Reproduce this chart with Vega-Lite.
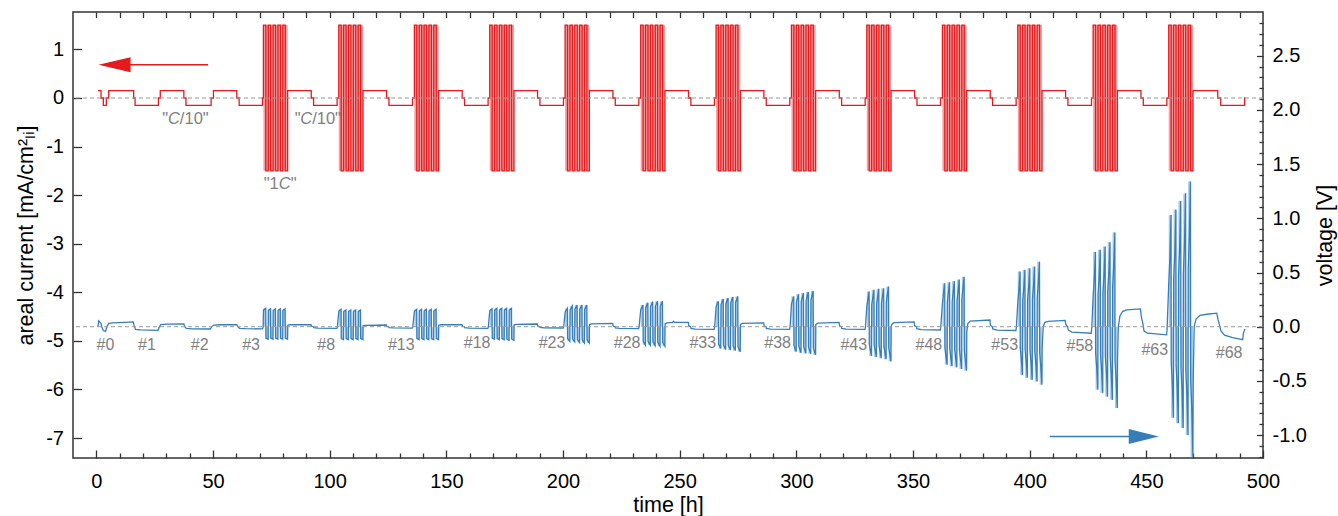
{
"$schema": "https://vega.github.io/schema/vega-lite/v6.json",
"width": 1190, "height": 446, "autosize": "none",
"padding": {"left": 73, "top": 12, "right": 75, "bottom": 58},
"background": "white",
"config": {
  "font": "Liberation Sans",
  "view": {"stroke": "#333", "strokeWidth": 1.5},
  "axis": {"domain": false, "grid": false, "tickColor": "#333", "tickWidth": 1.3, "labelColor": "#000", "titleColor": "#000", "labelFont": "Liberation Sans", "titleFont": "Liberation Sans", "labelFontSize": 20, "titleFontSize": 21.5, "titleFontWeight": "normal", "labelFlush": false, "labelOverlap": false}
},
"datasets": {
"cur": [
{"t":0.7,"c":0.15},{"t":2.0,"c":0},{"t":3.0,"c":-0.15},{"t":4.3,"c":0},{"t":5.3,"c":0.15},{"t":16.0,"c":0},{"t":16.6,"c":-0.15},{"t":26.6,"c":0},{"t":27.4,"c":0.15},{"t":37.5,"c":0},{"t":38.4,"c":-0.15},{"t":49.2,"c":0},{"t":50.2,"c":0.15},{"t":60.2,"c":0},{"t":61.2,"c":-0.15},{"t":71.2,"c":0},
{"t":71.6,"c":1.5},{"t":72.64,"c":-1.5},{"t":73.68,"c":1.5},{"t":74.72,"c":-1.5},{"t":75.76,"c":1.5},{"t":76.8,"c":-1.5},{"t":77.84,"c":1.5},{"t":78.88,"c":-1.5},{"t":79.92,"c":1.5},{"t":80.96,"c":-1.5},{"t":82.0,"c":0.15},{"t":92.1,"c":0},{"t":93.1,"c":-0.15},{"t":103.2,"c":0},
{"t":103.9,"c":1.5},{"t":104.94,"c":-1.5},{"t":105.98,"c":1.5},{"t":107.02,"c":-1.5},{"t":108.06,"c":1.5},{"t":109.1,"c":-1.5},{"t":110.14,"c":1.5},{"t":111.18,"c":-1.5},{"t":112.22,"c":1.5},{"t":113.26,"c":-1.5},{"t":114.3,"c":0.15},{"t":124.4,"c":0},{"t":125.4,"c":-0.15},{"t":135.5,"c":0},
{"t":136.3,"c":1.5},{"t":137.34,"c":-1.5},{"t":138.38,"c":1.5},{"t":139.42,"c":-1.5},{"t":140.46,"c":1.5},{"t":141.5,"c":-1.5},{"t":142.54,"c":1.5},{"t":143.58,"c":-1.5},{"t":144.62,"c":1.5},{"t":145.66,"c":-1.5},{"t":146.7,"c":0.15},{"t":156.8,"c":0},{"t":157.8,"c":-0.15},{"t":167.9,"c":0},
{"t":168.6,"c":1.5},{"t":169.64,"c":-1.5},{"t":170.68,"c":1.5},{"t":171.72,"c":-1.5},{"t":172.76,"c":1.5},{"t":173.8,"c":-1.5},{"t":174.84,"c":1.5},{"t":175.88,"c":-1.5},{"t":176.92,"c":1.5},{"t":177.96,"c":-1.5},{"t":179.0,"c":0.15},{"t":189.1,"c":0},{"t":190.1,"c":-0.15},{"t":200.2,"c":0},
{"t":200.9,"c":1.5},{"t":201.94,"c":-1.5},{"t":202.98,"c":1.5},{"t":204.02,"c":-1.5},{"t":205.06,"c":1.5},{"t":206.1,"c":-1.5},{"t":207.14,"c":1.5},{"t":208.18,"c":-1.5},{"t":209.22,"c":1.5},{"t":210.26,"c":-1.5},{"t":211.3,"c":0.15},{"t":221.4,"c":0},{"t":222.4,"c":-0.15},{"t":232.5,"c":0},
{"t":233.3,"c":1.5},{"t":234.34,"c":-1.5},{"t":235.38,"c":1.5},{"t":236.42,"c":-1.5},{"t":237.46,"c":1.5},{"t":238.5,"c":-1.5},{"t":239.54,"c":1.5},{"t":240.58,"c":-1.5},{"t":241.62,"c":1.5},{"t":242.66,"c":-1.5},{"t":243.7,"c":0.15},{"t":253.8,"c":0},{"t":254.8,"c":-0.15},{"t":264.9,"c":0},
{"t":265.6,"c":1.5},{"t":266.64,"c":-1.5},{"t":267.68,"c":1.5},{"t":268.72,"c":-1.5},{"t":269.76,"c":1.5},{"t":270.8,"c":-1.5},{"t":271.84,"c":1.5},{"t":272.88,"c":-1.5},{"t":273.92,"c":1.5},{"t":274.96,"c":-1.5},{"t":276.0,"c":0.15},{"t":286.1,"c":0},{"t":287.1,"c":-0.15},{"t":297.2,"c":0},
{"t":297.9,"c":1.5},{"t":298.94,"c":-1.5},{"t":299.98,"c":1.5},{"t":301.02,"c":-1.5},{"t":302.06,"c":1.5},{"t":303.1,"c":-1.5},{"t":304.14,"c":1.5},{"t":305.18,"c":-1.5},{"t":306.22,"c":1.5},{"t":307.26,"c":-1.5},{"t":308.3,"c":0.15},{"t":318.4,"c":0},{"t":319.4,"c":-0.15},{"t":329.5,"c":0},
{"t":330.2,"c":1.5},{"t":331.24,"c":-1.5},{"t":332.28,"c":1.5},{"t":333.32,"c":-1.5},{"t":334.36,"c":1.5},{"t":335.4,"c":-1.5},{"t":336.44,"c":1.5},{"t":337.48,"c":-1.5},{"t":338.52,"c":1.5},{"t":339.56,"c":-1.5},{"t":340.6,"c":0.15},{"t":350.7,"c":0},{"t":351.7,"c":-0.15},{"t":361.8,"c":0},
{"t":362.6,"c":1.5},{"t":363.64,"c":-1.5},{"t":364.68,"c":1.5},{"t":365.72,"c":-1.5},{"t":366.76,"c":1.5},{"t":367.8,"c":-1.5},{"t":368.84,"c":1.5},{"t":369.88,"c":-1.5},{"t":370.92,"c":1.5},{"t":371.96,"c":-1.5},{"t":373.0,"c":0.15},{"t":383.1,"c":0},{"t":384.1,"c":-0.15},{"t":394.2,"c":0},
{"t":394.9,"c":1.5},{"t":395.94,"c":-1.5},{"t":396.98,"c":1.5},{"t":398.02,"c":-1.5},{"t":399.06,"c":1.5},{"t":400.1,"c":-1.5},{"t":401.14,"c":1.5},{"t":402.18,"c":-1.5},{"t":403.22,"c":1.5},{"t":404.26,"c":-1.5},{"t":405.3,"c":0.15},{"t":415.4,"c":0},{"t":416.4,"c":-0.15},{"t":426.5,"c":0},
{"t":427.2,"c":1.5},{"t":428.24,"c":-1.5},{"t":429.28,"c":1.5},{"t":430.32,"c":-1.5},{"t":431.36,"c":1.5},{"t":432.4,"c":-1.5},{"t":433.44,"c":1.5},{"t":434.48,"c":-1.5},{"t":435.52,"c":1.5},{"t":436.56,"c":-1.5},{"t":437.6,"c":0.15},{"t":447.7,"c":0},{"t":448.7,"c":-0.15},{"t":458.8,"c":0},
{"t":459.6,"c":1.5},{"t":460.64,"c":-1.5},{"t":461.68,"c":1.5},{"t":462.72,"c":-1.5},{"t":463.76,"c":1.5},{"t":464.8,"c":-1.5},{"t":465.84,"c":1.5},{"t":466.88,"c":-1.5},{"t":467.92,"c":1.5},{"t":468.96,"c":-1.5},{"t":470.0,"c":0.15},{"t":480.6,"c":0},{"t":481.9,"c":-0.15},{"t":492.1,"c":0},{"t":492.4,"c":0}
],
"cblk": [
{"a":71.6,"e":82.0,"lo":-1.5,"hi":1.5},{"a":103.9,"e":114.3,"lo":-1.5,"hi":1.5},{"a":136.3,"e":146.7,"lo":-1.5,"hi":1.5},{"a":168.6,"e":179.0,"lo":-1.5,"hi":1.5},{"a":200.9,"e":211.3,"lo":-1.5,"hi":1.5},{"a":233.3,"e":243.7,"lo":-1.5,"hi":1.5},{"a":265.6,"e":276.0,"lo":-1.5,"hi":1.5},{"a":297.9,"e":308.3,"lo":-1.5,"hi":1.5},{"a":330.2,"e":340.6,"lo":-1.5,"hi":1.5},{"a":362.6,"e":373.0,"lo":-1.5,"hi":1.5},{"a":394.9,"e":405.3,"lo":-1.5,"hi":1.5},{"a":427.2,"e":437.6,"lo":-1.5,"hi":1.5},{"a":459.6,"e":470.0,"lo":-1.5,"hi":1.5}
],
"vbar": [
{"a":71.6,"e":72.64,"v":0.17},{"a":72.64,"e":73.68,"v":-0.115},{"a":73.68,"e":74.72,"v":0.165},{"a":74.72,"e":75.76,"v":-0.115},{"a":75.76,"e":76.8,"v":0.165},{"a":76.8,"e":77.84,"v":-0.115},{"a":77.84,"e":78.88,"v":0.165},{"a":78.88,"e":79.92,"v":-0.115},{"a":79.92,"e":80.96,"v":0.165},{"a":80.96,"e":82.0,"v":-0.115},
{"a":103.9,"e":104.94,"v":0.16},{"a":104.94,"e":105.98,"v":-0.12},{"a":105.98,"e":107.02,"v":0.155},{"a":107.02,"e":108.06,"v":-0.12},{"a":108.06,"e":109.1,"v":0.155},{"a":109.1,"e":110.14,"v":-0.12},{"a":110.14,"e":111.18,"v":0.155},{"a":111.18,"e":112.22,"v":-0.12},{"a":112.22,"e":113.26,"v":0.155},{"a":113.26,"e":114.3,"v":-0.12},
{"a":136.3,"e":137.34,"v":0.16},{"a":137.34,"e":138.38,"v":-0.12},{"a":138.38,"e":139.42,"v":0.16},{"a":139.42,"e":140.46,"v":-0.12},{"a":140.46,"e":141.5,"v":0.16},{"a":141.5,"e":142.54,"v":-0.12},{"a":142.54,"e":143.58,"v":0.16},{"a":143.58,"e":144.62,"v":-0.12},{"a":144.62,"e":145.66,"v":0.16},{"a":145.66,"e":146.7,"v":-0.12},
{"a":168.6,"e":169.64,"v":0.165},{"a":169.64,"e":170.68,"v":-0.115},{"a":170.68,"e":171.72,"v":0.17},{"a":171.72,"e":172.76,"v":-0.12},{"a":172.76,"e":173.8,"v":0.17},{"a":173.8,"e":174.84,"v":-0.12},{"a":174.84,"e":175.88,"v":0.17},{"a":175.88,"e":176.92,"v":-0.125},{"a":176.92,"e":177.96,"v":0.17},{"a":177.96,"e":179.0,"v":-0.125},
{"a":200.9,"e":201.94,"v":0.17},{"a":201.94,"e":202.98,"v":-0.135},{"a":202.98,"e":204.02,"v":0.19},{"a":204.02,"e":205.06,"v":-0.14},{"a":205.06,"e":206.1,"v":0.2},{"a":206.1,"e":207.14,"v":-0.145},{"a":207.14,"e":208.18,"v":0.2},{"a":208.18,"e":209.22,"v":-0.15},{"a":209.22,"e":210.26,"v":0.2},{"a":210.26,"e":211.3,"v":-0.15},
{"a":233.3,"e":234.34,"v":0.2},{"a":234.34,"e":235.38,"v":-0.17},{"a":235.38,"e":236.42,"v":0.22},{"a":236.42,"e":237.46,"v":-0.17},{"a":237.46,"e":238.5,"v":0.23},{"a":238.5,"e":239.54,"v":-0.175},{"a":239.54,"e":240.58,"v":0.235},{"a":240.58,"e":241.62,"v":-0.18},{"a":241.62,"e":242.66,"v":0.235},{"a":242.66,"e":243.7,"v":-0.18},
{"a":265.6,"e":266.64,"v":0.235},{"a":266.64,"e":267.68,"v":-0.2},{"a":267.68,"e":268.72,"v":0.255},{"a":268.72,"e":269.76,"v":-0.21},{"a":269.76,"e":270.8,"v":0.265},{"a":270.8,"e":271.84,"v":-0.215},{"a":271.84,"e":272.88,"v":0.275},{"a":272.88,"e":273.92,"v":-0.22},{"a":273.92,"e":274.96,"v":0.28},{"a":274.96,"e":276.0,"v":-0.23},
{"a":297.9,"e":298.94,"v":0.28},{"a":298.94,"e":299.98,"v":-0.23},{"a":299.98,"e":301.02,"v":0.3},{"a":301.02,"e":302.06,"v":-0.24},{"a":302.06,"e":303.1,"v":0.31},{"a":303.1,"e":304.14,"v":-0.245},{"a":304.14,"e":305.18,"v":0.32},{"a":305.18,"e":306.22,"v":-0.25},{"a":306.22,"e":307.26,"v":0.33},{"a":307.26,"e":308.3,"v":-0.26},
{"a":330.2,"e":331.24,"v":0.325},{"a":331.24,"e":332.28,"v":-0.27},{"a":332.28,"e":333.32,"v":0.34},{"a":333.32,"e":334.36,"v":-0.28},{"a":334.36,"e":335.4,"v":0.35},{"a":335.4,"e":336.44,"v":-0.29},{"a":336.44,"e":337.48,"v":0.355},{"a":337.48,"e":338.52,"v":-0.3},{"a":338.52,"e":339.56,"v":0.37},{"a":339.56,"e":340.6,"v":-0.32},
{"a":362.6,"e":363.64,"v":0.4},{"a":363.64,"e":364.68,"v":-0.35},{"a":364.68,"e":365.72,"v":0.41},{"a":365.72,"e":366.76,"v":-0.365},{"a":366.76,"e":367.8,"v":0.42},{"a":367.8,"e":368.84,"v":-0.375},{"a":368.84,"e":369.88,"v":0.435},{"a":369.88,"e":370.92,"v":-0.39},{"a":370.92,"e":371.96,"v":0.46},{"a":371.96,"e":373.0,"v":-0.405},
{"a":394.9,"e":395.94,"v":0.51},{"a":395.94,"e":396.98,"v":-0.445},{"a":396.98,"e":398.02,"v":0.525},{"a":398.02,"e":399.06,"v":-0.47},{"a":399.06,"e":400.1,"v":0.54},{"a":400.1,"e":401.14,"v":-0.49},{"a":401.14,"e":402.18,"v":0.555},{"a":402.18,"e":403.22,"v":-0.505},{"a":403.22,"e":404.26,"v":0.6},{"a":404.26,"e":405.3,"v":-0.535},
{"a":427.2,"e":428.24,"v":0.69},{"a":428.24,"e":429.28,"v":-0.58},{"a":429.28,"e":430.32,"v":0.71},{"a":430.32,"e":431.36,"v":-0.61},{"a":431.36,"e":432.4,"v":0.74},{"a":432.4,"e":433.44,"v":-0.645},{"a":433.44,"e":434.48,"v":0.78},{"a":434.48,"e":435.52,"v":-0.675},{"a":435.52,"e":436.56,"v":0.87},{"a":436.56,"e":437.6,"v":-0.75},
{"a":459.6,"e":460.64,"v":1.03},{"a":460.64,"e":461.68,"v":-0.84},{"a":461.68,"e":462.72,"v":1.08},{"a":462.72,"e":463.76,"v":-0.89},{"a":463.76,"e":464.8,"v":1.16},{"a":464.8,"e":465.84,"v":-0.935},{"a":465.84,"e":466.88,"v":1.23},{"a":466.88,"e":467.92,"v":-1.0},{"a":467.92,"e":468.96,"v":1.34},{"a":468.96,"e":470.0,"v":-1.2}
],
"volt": [
{"t":0.7,"v":0.0},{"t":1.0,"v":0.055},{"t":1.5,"v":0.045},{"t":2.0,"v":0.03},{"t":2.3,"v":0.0},{"t":3.0,"v":-0.035},{"t":3.9,"v":-0.043},{"t":4.4,"v":-0.01},{"t":5.3,"v":0.03},{"t":7.0,"v":0.035},{"t":12.0,"v":0.04},{"t":15.8,"v":0.045},{"t":16.2,"v":0.01},{"t":16.8,"v":-0.025},{"t":19.0,"v":-0.03},{"t":26.5,"v":-0.034},{"t":26.9,"v":-0.005},{"t":27.6,"v":0.02},{"t":30.0,"v":0.024},{"t":37.5,"v":0.026},{"t":37.9,"v":0.0},{"t":38.6,"v":-0.015},{"t":41.0,"v":-0.019},{"t":48.9,"v":-0.021},{"t":49.4,"v":0.0},{"t":50.4,"v":0.015},{"t":53.0,"v":0.018},{"t":60.2,"v":0.019},{"t":60.6,"v":0.0},{"t":61.4,"v":-0.015},{"t":64.0,"v":-0.018},{"t":71.2,"v":-0.02},{"t":71.5,"v":-0.005},
{"t":71.63,"v":0.153},{"t":72.6,"v":0.17},{"t":72.67,"v":-0.104},{"t":73.64,"v":-0.115},{"t":73.71,"v":0.149},{"t":74.68,"v":0.165},{"t":74.75,"v":-0.104},{"t":75.72,"v":-0.115},{"t":75.79,"v":0.149},{"t":76.76,"v":0.165},{"t":76.83,"v":-0.104},{"t":77.8,"v":-0.115},{"t":77.87,"v":0.149},{"t":78.84,"v":0.165},{"t":78.91,"v":-0.104},{"t":79.88,"v":-0.115},{"t":79.95,"v":0.149},{"t":80.92,"v":0.165},{"t":80.99,"v":-0.104},{"t":81.96,"v":-0.115},
{"t":82.05,"v":0.014},{"t":83.0,"v":0.018},{"t":92.0,"v":0.02},{"t":92.2,"v":0.004},{"t":93.0,"v":0},{"t":93.15,"v":-0.009},{"t":95.0,"v":-0.013},{"t":103.1,"v":-0.015},{"t":103.3,"v":-0.003},
{"t":103.93,"v":0.144},{"t":104.9,"v":0.16},{"t":104.97,"v":-0.108},{"t":105.94,"v":-0.12},{"t":106.01,"v":0.14},{"t":106.98,"v":0.155},{"t":107.05,"v":-0.108},{"t":108.02,"v":-0.12},{"t":108.09,"v":0.14},{"t":109.06,"v":0.155},{"t":109.13,"v":-0.108},{"t":110.1,"v":-0.12},{"t":110.17,"v":0.14},{"t":111.14,"v":0.155},{"t":111.21,"v":-0.108},{"t":112.18,"v":-0.12},{"t":112.25,"v":0.14},{"t":113.22,"v":0.155},{"t":113.29,"v":-0.108},{"t":114.26,"v":-0.12},
{"t":114.35,"v":0.01},{"t":115.3,"v":0.013},{"t":124.3,"v":0.016},{"t":124.5,"v":0.003},{"t":125.3,"v":0},{"t":125.45,"v":-0.008},{"t":127.3,"v":-0.011},{"t":135.4,"v":-0.013},{"t":135.6,"v":-0.003},
{"t":136.33,"v":0.144},{"t":137.3,"v":0.16},{"t":137.37,"v":-0.108},{"t":138.34,"v":-0.12},{"t":138.41,"v":0.144},{"t":139.38,"v":0.16},{"t":139.45,"v":-0.108},{"t":140.42,"v":-0.12},{"t":140.49,"v":0.144},{"t":141.46,"v":0.16},{"t":141.53,"v":-0.108},{"t":142.5,"v":-0.12},{"t":142.57,"v":0.144},{"t":143.54,"v":0.16},{"t":143.61,"v":-0.108},{"t":144.58,"v":-0.12},{"t":144.65,"v":0.144},{"t":145.62,"v":0.16},{"t":145.69,"v":-0.108},{"t":146.66,"v":-0.12},
{"t":146.75,"v":0.014},{"t":147.7,"v":0.018},{"t":156.7,"v":0.02},{"t":156.9,"v":0.004},{"t":157.7,"v":0},{"t":157.85,"v":-0.009},{"t":159.7,"v":-0.013},{"t":167.8,"v":-0.015},{"t":168.0,"v":-0.003},
{"t":168.63,"v":0.149},{"t":169.6,"v":0.165},{"t":169.67,"v":-0.104},{"t":170.64,"v":-0.115},{"t":170.71,"v":0.153},{"t":171.68,"v":0.17},{"t":171.75,"v":-0.108},{"t":172.72,"v":-0.12},{"t":172.79,"v":0.153},{"t":173.76,"v":0.17},{"t":173.83,"v":-0.108},{"t":174.8,"v":-0.12},{"t":174.87,"v":0.153},{"t":175.84,"v":0.17},{"t":175.91,"v":-0.113},{"t":176.88,"v":-0.125},{"t":176.95,"v":0.153},{"t":177.92,"v":0.17},{"t":177.99,"v":-0.113},{"t":178.96,"v":-0.125},
{"t":179.05,"v":0.017},{"t":180.0,"v":0.022},{"t":189.0,"v":0.025},{"t":189.2,"v":0.005},{"t":190.0,"v":0},{"t":190.15,"v":-0.007},{"t":192.0,"v":-0.011},{"t":200.1,"v":-0.012},{"t":200.3,"v":-0.002},
{"t":200.93,"v":0.136},{"t":201.9,"v":0.17},{"t":201.97,"v":-0.108},{"t":202.94,"v":-0.135},{"t":203.01,"v":0.152},{"t":203.98,"v":0.19},{"t":204.05,"v":-0.112},{"t":205.02,"v":-0.14},{"t":205.09,"v":0.16},{"t":206.06,"v":0.2},{"t":206.13,"v":-0.116},{"t":207.1,"v":-0.145},{"t":207.17,"v":0.16},{"t":208.14,"v":0.2},{"t":208.21,"v":-0.12},{"t":209.18,"v":-0.15},{"t":209.25,"v":0.16},{"t":210.22,"v":0.2},{"t":210.29,"v":-0.12},{"t":211.26,"v":-0.15},
{"t":211.35,"v":0.02},{"t":212.3,"v":0.026},{"t":221.3,"v":0.03},{"t":221.5,"v":0.006},{"t":222.3,"v":0},{"t":222.45,"v":-0.01},{"t":224.3,"v":-0.015},{"t":232.4,"v":-0.017},{"t":232.6,"v":-0.003},
{"t":233.33,"v":0.16},{"t":234.3,"v":0.2},{"t":234.37,"v":-0.136},{"t":235.34,"v":-0.17},{"t":235.41,"v":0.176},{"t":236.38,"v":0.22},{"t":236.45,"v":-0.136},{"t":237.42,"v":-0.17},{"t":237.49,"v":0.184},{"t":238.46,"v":0.23},{"t":238.53,"v":-0.14},{"t":239.5,"v":-0.175},{"t":239.57,"v":0.188},{"t":240.54,"v":0.235},{"t":240.61,"v":-0.144},{"t":241.58,"v":-0.18},{"t":241.65,"v":0.188},{"t":242.62,"v":0.235},{"t":242.69,"v":-0.144},{"t":243.66,"v":-0.18},
{"t":243.75,"v":0.025},{"t":244.7,"v":0.035},{"t":247.0,"v":0.04},{"t":247.3,"v":0.05},{"t":247.8,"v":0.04},{"t":253.7,"v":0.04},{"t":253.9,"v":0.008},{"t":254.7,"v":0},{"t":254.85,"v":-0.015},{"t":256.7,"v":-0.022},{"t":264.8,"v":-0.025},{"t":265.0,"v":-0.005},
{"t":265.63,"v":0.188},{"t":266.6,"v":0.235},{"t":266.67,"v":-0.16},{"t":267.64,"v":-0.2},{"t":267.71,"v":0.204},{"t":268.68,"v":0.255},{"t":268.75,"v":-0.168},{"t":269.72,"v":-0.21},{"t":269.79,"v":0.212},{"t":270.76,"v":0.265},{"t":270.83,"v":-0.172},{"t":271.8,"v":-0.215},{"t":271.87,"v":0.22},{"t":272.84,"v":0.275},{"t":272.91,"v":-0.176},{"t":273.88,"v":-0.22},{"t":273.95,"v":0.224},{"t":274.92,"v":0.28},{"t":274.99,"v":-0.184},{"t":275.96,"v":-0.23},
{"t":276.05,"v":0.022},{"t":277.0,"v":0.03},{"t":286.0,"v":0.035},{"t":286.2,"v":0.007},{"t":287.0,"v":0},{"t":287.15,"v":-0.015},{"t":289.0,"v":-0.022},{"t":297.1,"v":-0.025},{"t":297.3,"v":-0.005},
{"t":297.93,"v":0.21},{"t":298.9,"v":0.28},{"t":298.97,"v":-0.173},{"t":299.94,"v":-0.23},{"t":300.01,"v":0.225},{"t":300.98,"v":0.3},{"t":301.05,"v":-0.18},{"t":302.02,"v":-0.24},{"t":302.09,"v":0.233},{"t":303.06,"v":0.31},{"t":303.13,"v":-0.184},{"t":304.1,"v":-0.245},{"t":304.17,"v":0.24},{"t":305.14,"v":0.32},{"t":305.21,"v":-0.188},{"t":306.18,"v":-0.25},{"t":306.25,"v":0.248},{"t":307.22,"v":0.33},{"t":307.29,"v":-0.195},{"t":308.26,"v":-0.26},
{"t":308.35,"v":0.022},{"t":309.3,"v":0.033},{"t":318.3,"v":0.04},{"t":318.5,"v":0.008},{"t":319.3,"v":0},{"t":319.45,"v":-0.015},{"t":321.3,"v":-0.022},{"t":329.4,"v":-0.025},{"t":329.6,"v":-0.005},
{"t":330.23,"v":0.195},{"t":330.7,"v":0.26},{"t":331.2,"v":0.325},{"t":331.27,"v":-0.162},{"t":331.74,"v":-0.216},{"t":332.24,"v":-0.27},{"t":332.31,"v":0.204},{"t":332.78,"v":0.272},{"t":333.28,"v":0.34},{"t":333.35,"v":-0.168},{"t":333.82,"v":-0.224},{"t":334.32,"v":-0.28},{"t":334.39,"v":0.21},{"t":334.86,"v":0.28},{"t":335.36,"v":0.35},{"t":335.43,"v":-0.174},{"t":335.9,"v":-0.232},{"t":336.4,"v":-0.29},{"t":336.47,"v":0.213},{"t":336.94,"v":0.284},{"t":337.44,"v":0.355},{"t":337.51,"v":-0.18},{"t":337.98,"v":-0.24},{"t":338.48,"v":-0.3},{"t":338.55,"v":0.222},{"t":339.02,"v":0.296},{"t":339.52,"v":0.37},{"t":339.59,"v":-0.192},{"t":340.06,"v":-0.256},{"t":340.56,"v":-0.32},
{"t":340.65,"v":0.0},{"t":341.0,"v":0.025},{"t":342.0,"v":0.038},{"t":350.5,"v":0.045},{"t":350.7,"v":0.009},{"t":351.5,"v":0},{"t":351.65,"v":-0.018},{"t":353.5,"v":-0.027},{"t":361.7,"v":-0.03},{"t":361.9,"v":-0.006},
{"t":362.63,"v":0.22},{"t":363.1,"v":0.312},{"t":363.6,"v":0.4},{"t":363.67,"v":-0.193},{"t":364.14,"v":-0.273},{"t":364.64,"v":-0.35},{"t":364.71,"v":0.226},{"t":365.18,"v":0.32},{"t":365.68,"v":0.41},{"t":365.75,"v":-0.201},{"t":366.22,"v":-0.285},{"t":366.72,"v":-0.365},{"t":366.79,"v":0.231},{"t":367.26,"v":0.328},{"t":367.76,"v":0.42},{"t":367.83,"v":-0.206},{"t":368.3,"v":-0.293},{"t":368.8,"v":-0.375},{"t":368.87,"v":0.239},{"t":369.34,"v":0.339},{"t":369.84,"v":0.435},{"t":369.91,"v":-0.215},{"t":370.38,"v":-0.304},{"t":370.88,"v":-0.39},{"t":370.95,"v":0.253},{"t":371.42,"v":0.359},{"t":371.92,"v":0.46},{"t":371.99,"v":-0.223},{"t":372.46,"v":-0.316},{"t":372.96,"v":-0.405},
{"t":373.05,"v":-0.05},{"t":373.5,"v":0.03},{"t":374.5,"v":0.052},{"t":383.0,"v":0.062},{"t":383.2,"v":0.012},{"t":384.0,"v":0},{"t":384.15,"v":-0.02},{"t":386.0,"v":-0.031},{"t":394.1,"v":-0.035},{"t":394.3,"v":-0.007},
{"t":394.93,"v":0.23},{"t":395.4,"v":0.347},{"t":395.9,"v":0.51},{"t":395.97,"v":-0.2},{"t":396.44,"v":-0.303},{"t":396.94,"v":-0.445},{"t":397.01,"v":0.236},{"t":397.48,"v":0.357},{"t":397.98,"v":0.525},{"t":398.05,"v":-0.212},{"t":398.52,"v":-0.32},{"t":399.02,"v":-0.47},{"t":399.09,"v":0.243},{"t":399.56,"v":0.367},{"t":400.06,"v":0.54},{"t":400.13,"v":-0.22},{"t":400.6,"v":-0.333},{"t":401.1,"v":-0.49},{"t":401.17,"v":0.25},{"t":401.64,"v":0.377},{"t":402.14,"v":0.555},{"t":402.21,"v":-0.227},{"t":402.68,"v":-0.343},{"t":403.18,"v":-0.505},{"t":403.25,"v":0.27},{"t":403.72,"v":0.408},{"t":404.22,"v":0.6},{"t":404.29,"v":-0.241},{"t":404.76,"v":-0.364},{"t":405.26,"v":-0.535},
{"t":405.35,"v":-0.2},{"t":405.8,"v":0.0},{"t":406.5,"v":0.04},{"t":408.0,"v":0.05},{"t":415.2,"v":0.058},{"t":415.5,"v":0.02},{"t":416.3,"v":0.0},{"t":416.5,"v":-0.03},{"t":418.0,"v":-0.05},{"t":426.4,"v":-0.06},{"t":426.6,"v":-0.012},
{"t":427.23,"v":0.29},{"t":427.7,"v":0.449},{"t":428.2,"v":0.69},{"t":428.27,"v":-0.244},{"t":428.74,"v":-0.377},{"t":429.24,"v":-0.58},{"t":429.31,"v":0.298},{"t":429.78,"v":0.462},{"t":430.28,"v":0.71},{"t":430.35,"v":-0.256},{"t":430.82,"v":-0.397},{"t":431.32,"v":-0.61},{"t":431.39,"v":0.311},{"t":431.86,"v":0.481},{"t":432.36,"v":0.74},{"t":432.43,"v":-0.271},{"t":432.9,"v":-0.419},{"t":433.4,"v":-0.645},{"t":433.47,"v":0.328},{"t":433.94,"v":0.507},{"t":434.44,"v":0.78},{"t":434.51,"v":-0.284},{"t":434.98,"v":-0.439},{"t":435.48,"v":-0.675},{"t":435.55,"v":0.365},{"t":436.02,"v":0.566},{"t":436.52,"v":0.87},{"t":436.59,"v":-0.315},{"t":437.06,"v":-0.488},{"t":437.56,"v":-0.75},
{"t":437.65,"v":-0.3},{"t":438.0,"v":0.0},{"t":438.7,"v":0.1},{"t":439.8,"v":0.14},{"t":441.5,"v":0.155},{"t":447.5,"v":0.165},{"t":447.8,"v":0.1},{"t":448.6,"v":0.02},{"t":449.0,"v":-0.04},{"t":450.5,"v":-0.06},{"t":458.7,"v":-0.075},{"t":458.9,"v":-0.015},
{"t":459.63,"v":0.412},{"t":460.1,"v":0.639},{"t":460.6,"v":1.03},{"t":460.67,"v":-0.336},{"t":461.14,"v":-0.521},{"t":461.64,"v":-0.84},{"t":461.71,"v":0.432},{"t":462.18,"v":0.67},{"t":462.68,"v":1.08},{"t":462.75,"v":-0.356},{"t":463.22,"v":-0.552},{"t":463.72,"v":-0.89},{"t":463.79,"v":0.464},{"t":464.26,"v":0.719},{"t":464.76,"v":1.16},{"t":464.83,"v":-0.374},{"t":465.3,"v":-0.58},{"t":465.8,"v":-0.935},{"t":465.87,"v":0.492},{"t":466.34,"v":0.763},{"t":466.84,"v":1.23},{"t":466.91,"v":-0.4},{"t":467.38,"v":-0.62},{"t":467.88,"v":-1.0},{"t":467.95,"v":0.536},{"t":468.42,"v":0.831},{"t":468.92,"v":1.34},{"t":468.99,"v":-0.48},{"t":469.46,"v":-0.744},{"t":469.96,"v":-1.2},
{"t":470.1,"v":-0.5},{"t":470.5,"v":0.0},{"t":471.3,"v":0.07},{"t":473.0,"v":0.105},{"t":476.0,"v":0.115},{"t":480.2,"v":0.125},{"t":480.7,"v":0.07},{"t":481.3,"v":0.02},{"t":482.0,"v":-0.04},{"t":483.5,"v":-0.077},{"t":487.0,"v":-0.1},{"t":491.3,"v":-0.12},{"t":491.6,"v":-0.06},{"t":492.3,"v":-0.02}
],
"tags": [{"t":3.9,"v":-0.166,"s":"#0"},{"t":21.7,"v":-0.166,"s":"#1"},{"t":44.3,"v":-0.166,"s":"#2"},{"t":66.3,"v":-0.166,"s":"#3"},{"t":98.5,"v":-0.166,"s":"#8"},{"t":130.7,"v":-0.166,"s":"#13"},{"t":163.2,"v":-0.15,"s":"#18"},{"t":195.3,"v":-0.15,"s":"#23"},{"t":227.5,"v":-0.15,"s":"#28"},{"t":259.9,"v":-0.15,"s":"#33"},{"t":292.0,"v":-0.15,"s":"#38"},{"t":324.6,"v":-0.166,"s":"#43"},{"t":356.8,"v":-0.166,"s":"#48"},{"t":389.3,"v":-0.166,"s":"#53"},{"t":421.5,"v":-0.182,"s":"#58"},{"t":453.6,"v":-0.212,"s":"#63"},{"t":485.5,"v":-0.243,"s":"#68"}],
"c10": [{"t":28.3,"c":-0.426},{"t":85.0,"c":-0.426}],
"c1": [{"t":71.7,"c":-1.775}],
"zc": [{"c":0}],
"zv": [{"v":0}],
"rarrow": [{"t1":13.5,"t2":47.9,"c":0.684,"tip":7.8}],
"barrow": [{"t1":408.6,"t2":443.2,"v":-1.013,"tip":448.9}]
},
"layer": [
{
"layer": [
{"data": {"name": "cblk"}, "mark": {"type": "rect", "color": "#f4a0a2"},
 "encoding": {
  "x": {"field": "a", "type": "quantitative", "scale": {"domain": [-10, 500], "nice": false, "zero": false}, "axis": null},
  "x2": {"field": "e"},
  "y": {"field": "lo", "type": "quantitative", "scale": {"domain": [-7.41, 1.77], "nice": false, "zero": false}, "axis": null},
  "y2": {"field": "hi"}
 }},
{"data": {"name": "cur"}, "mark": {"type": "line", "interpolate": "step-after", "color": "#e41a1c", "strokeWidth": 1.3},
 "encoding": {
  "x": {"field": "t", "type": "quantitative", "scale": {"domain": [-10, 500], "nice": false, "zero": false},
        "axis": {"orient": "bottom", "values": [0,10,20,30,40,50,60,70,80,90,100,110,120,130,140,150,160,170,180,190,200,210,220,230,240,250,260,270,280,290,300,310,320,330,340,350,360,370,380,390,400,410,420,430,440,450,460,470,480,490,500],
                 "labelExpr": "datum.value % 50 === 0 ? datum.label : ''",
                 "tickSize": {"condition": {"test": "datum.value % 50 === 0", "value": -8}, "value": -5},
                 "labelPadding": {"condition": {"test": "datum.value % 50 === 0", "value": 21}, "value": 18},
                 "title": "time [h]", "titlePadding": 3}},
  "y": {"field": "c", "type": "quantitative", "scale": {"domain": [-7.41, 1.77], "nice": false, "zero": false},
        "axis": {"orient": "left", "values": [-7,-6.5,-6,-5.5,-5,-4.5,-4,-3.5,-3,-2.5,-2,-1.5,-1,-0.5,0,0.5,1,1.5], "format": "d",
                 "labelExpr": "datum.value % 1 === 0 ? replace(datum.label, '\u2212', '-') : ''",
                 "tickSize": {"condition": {"test": "datum.value % 1 === 0", "value": -8.5}, "value": -5.5},
                 "labelPadding": {"condition": {"test": "datum.value % 1 === 0", "value": 18}, "value": 15},
                 "title": "areal current [mA/cm\u00b2\u2097\u1d62]", "titlePadding": 8}}
 }},
{"data": {"name": "zc"}, "mark": {"type": "rule", "color": "#999999", "strokeDash": [4, 3], "strokeWidth": 1},
 "encoding": {"y": {"field": "c", "type": "quantitative", "scale": {"domain": [-7.41, 1.77], "nice": false, "zero": false}, "axis": null}}},
{"data": {"name": "c10"}, "mark": {"type": "text", "text": "\"", "align": "left", "baseline": "middle", "fontSize": 16.5, "color": "#808080"},
 "encoding": {
  "x": {"field": "t", "type": "quantitative", "scale": {"domain": [-10, 500], "nice": false, "zero": false}, "axis": null},
  "y": {"field": "c", "type": "quantitative", "scale": {"domain": [-7.41, 1.77], "nice": false, "zero": false}, "axis": null}}},
{"data": {"name": "c10"}, "mark": {"type": "text", "text": "C", "fontStyle": "italic", "align": "left", "baseline": "middle", "fontSize": 16.5, "color": "#808080", "dx": 5.7},
 "encoding": {
  "x": {"field": "t", "type": "quantitative", "scale": {"domain": [-10, 500], "nice": false, "zero": false}, "axis": null},
  "y": {"field": "c", "type": "quantitative", "scale": {"domain": [-7.41, 1.77], "nice": false, "zero": false}, "axis": null}}},
{"data": {"name": "c10"}, "mark": {"type": "text", "text": "/10\"", "align": "left", "baseline": "middle", "fontSize": 16.5, "color": "#808080", "dx": 17.5},
 "encoding": {
  "x": {"field": "t", "type": "quantitative", "scale": {"domain": [-10, 500], "nice": false, "zero": false}, "axis": null},
  "y": {"field": "c", "type": "quantitative", "scale": {"domain": [-7.41, 1.77], "nice": false, "zero": false}, "axis": null}}},
{"data": {"name": "c1"}, "mark": {"type": "text", "text": "\"1", "align": "left", "baseline": "middle", "fontSize": 16.5, "color": "#808080"},
 "encoding": {
  "x": {"field": "t", "type": "quantitative", "scale": {"domain": [-10, 500], "nice": false, "zero": false}, "axis": null},
  "y": {"field": "c", "type": "quantitative", "scale": {"domain": [-7.41, 1.77], "nice": false, "zero": false}, "axis": null}}},
{"data": {"name": "c1"}, "mark": {"type": "text", "text": "C", "fontStyle": "italic", "align": "left", "baseline": "middle", "fontSize": 16.5, "color": "#808080", "dx": 15},
 "encoding": {
  "x": {"field": "t", "type": "quantitative", "scale": {"domain": [-10, 500], "nice": false, "zero": false}, "axis": null},
  "y": {"field": "c", "type": "quantitative", "scale": {"domain": [-7.41, 1.77], "nice": false, "zero": false}, "axis": null}}},
{"data": {"name": "c1"}, "mark": {"type": "text", "text": "\"", "align": "left", "baseline": "middle", "fontSize": 16.5, "color": "#808080", "dx": 27},
 "encoding": {
  "x": {"field": "t", "type": "quantitative", "scale": {"domain": [-10, 500], "nice": false, "zero": false}, "axis": null},
  "y": {"field": "c", "type": "quantitative", "scale": {"domain": [-7.41, 1.77], "nice": false, "zero": false}, "axis": null}}},
{"data": {"name": "rarrow"}, "mark": {"type": "rule", "color": "#e41a1c", "strokeWidth": 1.5},
 "encoding": {
  "x": {"field": "t1", "type": "quantitative", "scale": {"domain": [-10, 500], "nice": false, "zero": false}, "axis": null},
  "x2": {"field": "t2"},
  "y": {"field": "c", "type": "quantitative", "scale": {"domain": [-7.41, 1.77], "nice": false, "zero": false}, "axis": null}}},
{"data": {"name": "rarrow"}, "mark": {"type": "point", "shape": "M -1 0 L 1 -0.47 L 1 0.47 Z", "size": 1024, "filled": true, "color": "#e41a1c", "opacity": 1, "strokeWidth": 0},
 "encoding": {
  "x": {"field": "tip", "type": "quantitative", "scale": {"domain": [-10, 500], "nice": false, "zero": false}, "axis": null},
  "y": {"field": "c", "type": "quantitative", "scale": {"domain": [-7.41, 1.77], "nice": false, "zero": false}, "axis": null}}}
],
"resolve": {"axis": {"x": "independent", "y": "independent"}}
},
{
"layer": [
{"data": {"name": "vbar"}, "mark": {"type": "rect", "color": "#a9cbe8"},
 "encoding": {
  "x": {"field": "a", "type": "quantitative", "scale": {"domain": [-10, 500], "nice": false, "zero": false}, "axis": null},
  "x2": {"field": "e"},
  "y": {"field": "v", "type": "quantitative", "scale": {"domain": [-1.211, 2.903], "nice": false, "zero": false}, "axis": null},
  "y2": {"datum": 0}
 }},
{"data": {"name": "volt"}, "mark": {"type": "line", "color": "#377eb8", "strokeWidth": 1.3},
 "encoding": {
  "x": {"field": "t", "type": "quantitative", "scale": {"domain": [-10, 500], "nice": false, "zero": false},
        "axis": {"orient": "top", "values": [0,10,20,30,40,50,60,70,80,90,100,110,120,130,140,150,160,170,180,190,200,210,220,230,240,250,260,270,280,290,300,310,320,330,340,350,360,370,380,390,400,410,420,430,440,450,460,470,480,490], "tickSize": -5.5, "labels": false, "title": null}},
  "y": {"field": "v", "type": "quantitative", "scale": {"domain": [-1.211, 2.903], "nice": false, "zero": false},
        "axis": {"orient": "right", "values": [-1.2,-1.1,-1,-0.9,-0.8,-0.7,-0.6,-0.5,-0.4,-0.3,-0.2,-0.1,0,0.1,0.2,0.3,0.4,0.5,0.6,0.7,0.8,0.9,1,1.1,1.2,1.3,1.4,1.5,1.6,1.7,1.8,1.9,2,2.1,2.2,2.3,2.4,2.5,2.6,2.7,2.8], "format": ".1f",
                 "labelExpr": "abs(datum.value*2 - round(datum.value*2)) < 0.001 ? replace(datum.label, '\u2212', '-') : ''",
                 "tickSize": {"condition": {"test": "abs(datum.value*2 - round(datum.value*2)) < 0.001", "value": -6.5}, "value": -4},
                 "labelPadding": {"condition": {"test": "abs(datum.value*2 - round(datum.value*2)) < 0.001", "value": 15.5}, "value": 13},
                 "title": "voltage [V]", "titleAngle": 270, "titleBaseline": "top", "titlePadding": 8}}
 }},
{"data": {"name": "zv"}, "mark": {"type": "rule", "color": "#999999", "strokeDash": [4, 3], "strokeWidth": 1},
 "encoding": {"y": {"field": "v", "type": "quantitative", "scale": {"domain": [-1.211, 2.903], "nice": false, "zero": false}, "axis": null}}},
{"data": {"name": "tags"}, "mark": {"type": "text", "align": "center", "baseline": "middle", "fontSize": 16, "color": "#808080"},
 "encoding": {
  "x": {"field": "t", "type": "quantitative", "scale": {"domain": [-10, 500], "nice": false, "zero": false}, "axis": null},
  "y": {"field": "v", "type": "quantitative", "scale": {"domain": [-1.211, 2.903], "nice": false, "zero": false}, "axis": null},
  "text": {"field": "s", "type": "nominal"}}},
{"data": {"name": "barrow"}, "mark": {"type": "rule", "color": "#377eb8", "strokeWidth": 1.5},
 "encoding": {
  "x": {"field": "t1", "type": "quantitative", "scale": {"domain": [-10, 500], "nice": false, "zero": false}, "axis": null},
  "x2": {"field": "t2"},
  "y": {"field": "v", "type": "quantitative", "scale": {"domain": [-1.211, 2.903], "nice": false, "zero": false}, "axis": null}}},
{"data": {"name": "barrow"}, "mark": {"type": "point", "shape": "M 1 0 L -1 -0.5 L -1 0.5 Z", "size": 900, "filled": true, "color": "#377eb8", "opacity": 1, "strokeWidth": 0},
 "encoding": {
  "x": {"field": "tip", "type": "quantitative", "scale": {"domain": [-10, 500], "nice": false, "zero": false}, "axis": null},
  "y": {"field": "v", "type": "quantitative", "scale": {"domain": [-1.211, 2.903], "nice": false, "zero": false}, "axis": null}}}
],
"resolve": {"axis": {"x": "independent", "y": "independent"}}
}
],
"resolve": {"scale": {"y": "independent"}, "axis": {"x": "independent", "y": "independent"}}
}
